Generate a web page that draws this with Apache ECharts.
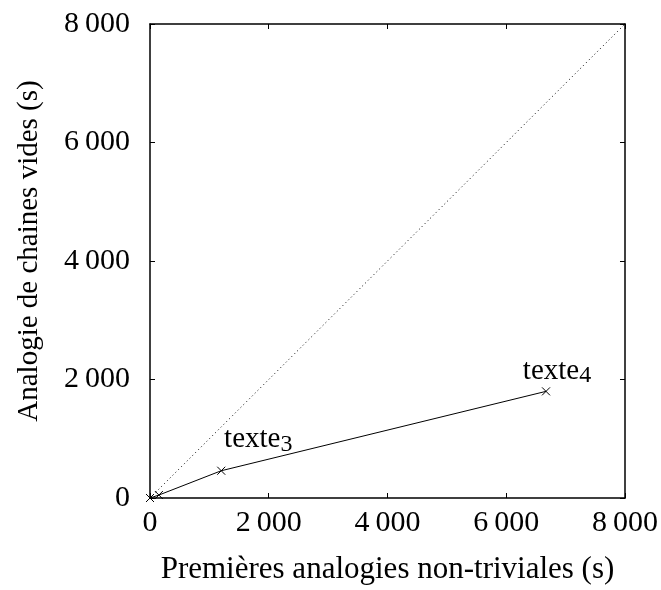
<!DOCTYPE html>
<html>
<head>
<meta charset="utf-8">
<script src="https://cdn.jsdelivr.net/npm/echarts@6/dist/echarts.min.js"></script>
<style>
  html, body { margin: 0; padding: 0; background: #fff; }
  #chart { width: 661px; height: 590px; }
</style>
</head>
<body>
<div id="chart"></div>
<script>
  // durées mesurées (s)
  const premieres = [0, 150, 1200, 6670];
  const chainesVides = [0, 50, 460, 1800];
  const pointLabels = ['', '', 'texte3', 'texte4'];
  const diagonal = [[0, 0], [8000, 8000]];
  const axisMin = 0, axisMax = 8000, step = 2000;

  const font = '"Liberation Serif", "DejaVu Serif", serif';
  const crossSymbol = 'path://M0,0L10,10M10,0L0,10';

  function fmt(v) {
    // séparateur de milliers : espace fine
    return String(v).replace(/\B(?=(\d{3})+(?!\d))/g, '\u2009');
  }

  // "texte3" -> texte + chiffre abaissé
  function labelRich(s) {
    const m = s.match(/^(\D*)(\d*)$/);
    return '{t|' + m[1] + '}{d|' + m[2] + '}';
  }

  const chart = echarts.init(document.getElementById('chart'));

  function baseAxis(extra) {
    return Object.assign({
      type: 'value',
      min: axisMin,
      max: axisMax,
      interval: step,
      axisLine: { show: true, onZero: false, lineStyle: { color: '#000', width: 1.5 } },
      axisTick: { show: true, inside: true, length: 5, lineStyle: { color: '#000', width: 1 } },
      splitLine: { show: false },
      axisLabel: { show: false }
    }, extra);
  }

  const labelOffsets = [[0, 0], [0, 0], [37, -31], [11, -20]];

  const option = {
    animation: false,
    backgroundColor: '#fff',
    textStyle: { fontFamily: font },
    grid: { left: 150, right: 36, top: 24, bottom: 91, containLabel: false },
    xAxis: [
      baseAxis({
        position: 'bottom',
        name: 'Premières analogies non-triviales (s)',
        nameLocation: 'middle',
        nameGap: 56,
        nameTextStyle: { fontFamily: font, fontSize: 31, color: '#000' },
        axisLabel: { show: true, margin: 10, fontFamily: font, fontSize: 30, color: '#000', formatter: fmt }
      }),
      baseAxis({ position: 'top' })
    ],
    yAxis: [
      baseAxis({
        position: 'left',
        name: 'Analogie de chaines vides (s)',
        nameLocation: 'middle',
        nameGap: 106,
        nameTextStyle: { fontFamily: font, fontSize: 29, color: '#000', padding: [0, 0, 0, 20] },
        axisLabel: { show: true, margin: 20, fontFamily: font, fontSize: 30, color: '#000', formatter: fmt }
      }),
      baseAxis({ position: 'right' })
    ],
    series: [
      {
        type: 'line',
        data: diagonal,
        symbol: 'none',
        silent: true,
        lineStyle: { color: '#000', width: 1, type: [1, 3] }
      },
      {
        type: 'line',
        data: premieres.map((x, i) => ({
          value: [x, chainesVides[i]],
          label: {
            show: pointLabels[i] !== '',
            formatter: pointLabels[i] ? labelRich(pointLabels[i]) : '',
            offset: labelOffsets[i]
          }
        })),
        symbol: crossSymbol,
        symbolSize: 8,
        itemStyle: { color: 'none', borderColor: '#000', borderWidth: 1 },
        lineStyle: { color: '#000', width: 1 },
        label: {
          position: 'inside',
          color: '#000',
          rich: {
            t: { fontFamily: font, fontSize: 29, color: '#000' },
            d: { fontFamily: font, fontSize: 24, color: '#000', padding: [9, 0, 0, 0] }
          }
        }
      }
    ]
  };

  chart.setOption(option);
</script>
</body>
</html>
